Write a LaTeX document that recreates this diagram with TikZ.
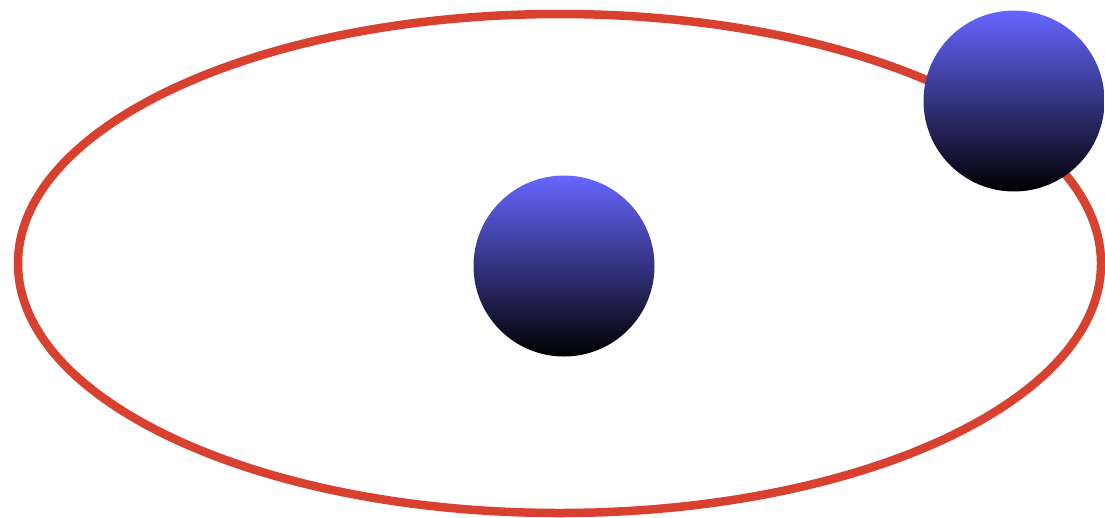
\documentclass[tikz,border=0pt]{standalone}
\begin{document}
\begin{tikzpicture}[x=1pt,y=-1pt,
  orbit/.style={draw=orbitred,line width=8.5pt},
  ball/.style={circle,minimum size=181pt,inner sep=0pt,outer sep=0pt,top color=ballblue,bottom color=black,shading angle=0}]
\definecolor{orbitred}{RGB}{216,64,48}
\definecolor{ballblue}{RGB}{102,102,255}
\useasboundingbox (0,0) rectangle (1105,517);
\draw[orbit] (559.5,263.5) ellipse [x radius=541.5pt, y radius=249.5pt];
\node[ball] (center) at (564,266) {};
\node[ball] (planet) at (1014,101) {};
\end{tikzpicture}
\end{document}
